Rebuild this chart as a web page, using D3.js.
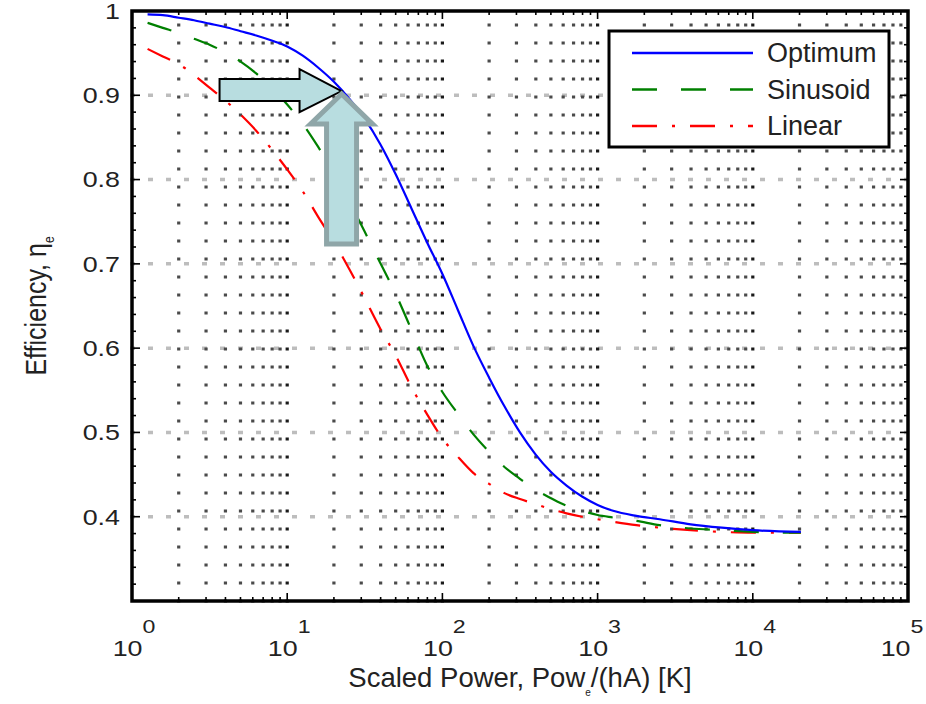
<!DOCTYPE html>
<html>
<head>
<meta charset="utf-8">
<script src="https://cdn.jsdelivr.net/npm/d3@7"></script>
<style>
  body { margin: 0; background: #fff; }
  svg { display: block; }
  text { font-family: "Liberation Sans", Arial, Helvetica, sans-serif; fill: #222; }
</style>
</head>
<body>
<svg id="chart" width="926" height="704"></svg>
<script>
// scaled power, shared by the three curves
const power = [1.26, 1.58, 2.0, 2.51, 3.16, 3.98, 5.01, 6.31, 7.94, 10,
  12.6, 15.8, 20.0, 25.1, 31.6, 39.8, 50.1, 63.1, 79.4, 100,
  126, 158, 200, 251, 316, 398, 501, 631, 794, 1000,
  1259, 1778, 2512, 3981, 6310, 10000, 20400];

const optimum = [0.996, 0.995, 0.992, 0.989, 0.985, 0.981, 0.976, 0.971, 0.965, 0.958,
  0.947, 0.933, 0.916, 0.896, 0.872, 0.842, 0.806, 0.766, 0.726, 0.688,
  0.645, 0.603, 0.565, 0.531, 0.500, 0.474, 0.453, 0.437, 0.424, 0.414,
  0.407, 0.401, 0.397, 0.391, 0.387, 0.384, 0.382];

const sinusoid = [0.986, 0.980, 0.974, 0.967, 0.960, 0.951, 0.940, 0.926, 0.909, 0.889,
  0.866, 0.839, 0.808, 0.774, 0.738, 0.701, 0.664, 0.622, 0.580, 0.548,
  0.522, 0.498, 0.477, 0.459, 0.445, 0.432, 0.422, 0.413, 0.407, 0.402,
  0.399, 0.395, 0.390, 0.386, 0.384, 0.382, 0.381];

const linear = [0.955, 0.946, 0.937, 0.924, 0.909, 0.894, 0.877, 0.858, 0.836, 0.812,
  0.786, 0.756, 0.726, 0.694, 0.659, 0.623, 0.591, 0.554, 0.522, 0.493,
  0.471, 0.452, 0.439, 0.428, 0.421, 0.415, 0.409, 0.404, 0.400, 0.397,
  0.394, 0.390, 0.387, 0.384, 0.382, 0.381, 0.381];

const seriesNames = ['Optimum', 'Sinusoid', 'Linear'];
const yTicks = [0.4, 0.5, 0.6, 0.7, 0.8, 0.9, 1];
const xExponents = [0, 1, 2, 3, 4, 5];

// where the two annotation arrows point, in data units
const arrowTip = { power: 22.4, eff: 0.905 };

const styles = {
  Optimum: { color: '#0000ff', dash: null },
  Sinusoid: { color: '#008000', dash: '25,24' },
  Linear: { color: '#ff0000', dash: '25,15,3,15' }
};

const svg = d3.select('#chart');
const plotLeft = 132, plotRight = 908, plotTop = 11, plotBottom = 601;

const x = d3.scaleLog().domain([1, 1e5]).range([plotLeft, plotRight]);
const y = d3.scaleLinear().domain([0.3, 1]).range([plotBottom, plotTop]);

// all log ticks: 1..9 for each decade
const xAll = [];
for (let d = 0; d < 5; d++) {
  for (let k = 1; k < 10; k++) xAll.push(k * Math.pow(10, d));
}
xAll.push(1e5);
const isMajor = v => Math.abs(Math.log10(v) - Math.round(Math.log10(v))) < 1e-9;
const yMinor = d3.range(0, 36).map(i => 0.3 + i * 0.02);

/*
 * grid: vertical dotted lines at each log tick, gray dashes at each 0.1
 */
const grid = svg.append('g');
grid.selectAll('.hgrid')
  .data(yTicks.filter(v => v < 1))
  .join('line')
  .attr('x1', plotLeft - 2).attr('x2', plotRight)
  .attr('y1', d => y(d)).attr('y2', d => y(d))
  .attr('stroke', '#bdbdbd')
  .attr('stroke-width', 3.5)
  .attr('stroke-dasharray', '5,13');

grid.selectAll('.vgrid')
  .data(xAll.filter(v => v > 1 && v < 1e5))
  .join('line')
  .attr('x1', d => x(d)).attr('x2', d => x(d))
  .attr('y1', plotBottom + 1.5).attr('y2', plotTop)
  .attr('stroke', d => isMajor(d) ? '#1a1a1a' : '#4a4a4a')
  .attr('stroke-width', 3.2)
  .attr('stroke-dasharray', '3,15');

/*
 * curves
 */
const line = d3.line()
  .x(d => x(d[0]))
  .y(d => y(d[1]))
  .curve(d3.curveMonotoneX);

const seriesData = {
  Optimum: power.map((p, i) => [p, optimum[i]]),
  Sinusoid: power.map((p, i) => [p, sinusoid[i]]),
  Linear: power.map((p, i) => [p, linear[i]])
};

svg.append('g').selectAll('path')
  .data(seriesNames.slice().reverse())
  .join('path')
  .attr('d', d => line(seriesData[d]))
  .attr('fill', 'none')
  .attr('stroke', d => styles[d].color)
  .attr('stroke-width', 2.2)
  .attr('stroke-dasharray', d => styles[d].dash);

/*
 * annotation arrows, drawn around the tip point
 */
const tx = x(arrowTip.power), ty = y(arrowTip.eff);

const hArrow = [[0, 0], [-42, -22], [-42, -12], [-122, -12], [-122, 10], [-42, 10], [-42, 21]];
svg.append('path')
  .attr('d', d3.line()(hArrow.map(p => [tx + p[0], ty + p[1]])) + 'Z')
  .attr('fill', '#b8dde0')
  .attr('stroke', '#000')
  .attr('stroke-width', 2);

const vArrow = [[0, 3], [-31, 33], [-15, 33], [-15, 153], [15, 153], [15, 33], [31, 33]];
svg.append('path')
  .attr('d', d3.line()(vArrow.map(p => [tx + p[0], ty + p[1]])) + 'Z')
  .attr('fill', '#b8dde0')
  .attr('stroke', '#8fa6a8')
  .attr('stroke-width', 5)
  .attr('stroke-linejoin', 'miter');

/*
 * legend
 */
const legend = svg.append('g');
legend.append('rect')
  .attr('x', 609).attr('y', 31)
  .attr('width', 280).attr('height', 116)
  .attr('fill', '#fff')
  .attr('stroke', '#000')
  .attr('stroke-width', 3);

const rows = legend.selectAll('.row')
  .data(seriesNames)
  .join('g')
  .attr('transform', (d, i) => `translate(0, ${53 + i * 36.5})`);

rows.append('line')
  .attr('x1', 632).attr('x2', 753)
  .attr('stroke', d => styles[d].color)
  .attr('stroke-width', 2.6)
  .attr('stroke-dasharray', d => styles[d].dash);

rows.append('text')
  .attr('x', 767)
  .attr('dy', '0.35em')
  .attr('font-size', 27)
  .text(d => d);

/*
 * box and ticks on all four sides
 */
svg.append('rect')
  .attr('x', plotLeft).attr('y', plotTop)
  .attr('width', plotRight - plotLeft).attr('height', plotBottom - plotTop)
  .attr('fill', 'none')
  .attr('stroke', '#000')
  .attr('stroke-width', 3.5);

const ticks = svg.append('g').attr('stroke', '#000').attr('stroke-width', 1.6);
yMinor.forEach(v => {
  const len = Math.abs(v * 10 - Math.round(v * 10)) < 1e-6 ? 8 : 4;
  ticks.append('line').attr('x1', plotLeft).attr('x2', plotLeft + len).attr('y1', y(v)).attr('y2', y(v));
  ticks.append('line').attr('x1', plotRight).attr('x2', plotRight - len).attr('y1', y(v)).attr('y2', y(v));
});
xAll.forEach(v => {
  const len = isMajor(v) ? 8 : 4;
  ticks.append('line').attr('x1', x(v)).attr('x2', x(v)).attr('y1', plotBottom).attr('y2', plotBottom - len);
  ticks.append('line').attr('x1', x(v)).attr('x2', x(v)).attr('y1', plotTop).attr('y2', plotTop + len);
});

/*
 * tick labels (slightly stretched like the original raster)
 */
svg.append('g').selectAll('text')
  .data(yTicks)
  .join('text')
  .attr('transform', d => `translate(120, ${y(d)}) scale(1.22, 1)`)
  .attr('text-anchor', 'end')
  .attr('dy', '0.36em')
  .attr('font-size', 22)
  .text(d => d === 1 ? '1' : d.toFixed(1));

// last label would run off the page, keep it just inside
const xl = svg.append('g').selectAll('text')
  .data(xExponents)
  .join('text')
  .attr('transform', d => `translate(${Math.min(x(Math.pow(10, d)) + 2, 902)}, 656) scale(1.22, 1)`)
  .attr('text-anchor', 'middle')
  .attr('font-size', 22);
xl.append('tspan').text('10');
xl.append('tspan')
  .attr('dy', -23)
  .attr('font-size', 19)
  .text(d => d);

/*
 * axis titles
 */
const xt = svg.append('text')
  .attr('x', (plotLeft + plotRight) / 2)
  .attr('y', 687)
  .attr('text-anchor', 'middle')
  .attr('font-size', 27.5);
xt.append('tspan').text('Scaled Power, Pow');
xt.append('tspan').attr('dy', 9).attr('font-size', 10).text('e');
xt.append('tspan').attr('dy', -9).text('/(hA) [K]');

const yt = svg.append('text')
  .attr('transform', `translate(46, ${(plotTop + plotBottom) / 2}) rotate(-90) scale(1, 1.15)`)
  .attr('text-anchor', 'middle')
  .attr('font-size', 25);
yt.append('tspan').text('Efficiency, η');
yt.append('tspan').attr('dy', 7).attr('font-size', 12).text('e');
</script>
</body>
</html>
